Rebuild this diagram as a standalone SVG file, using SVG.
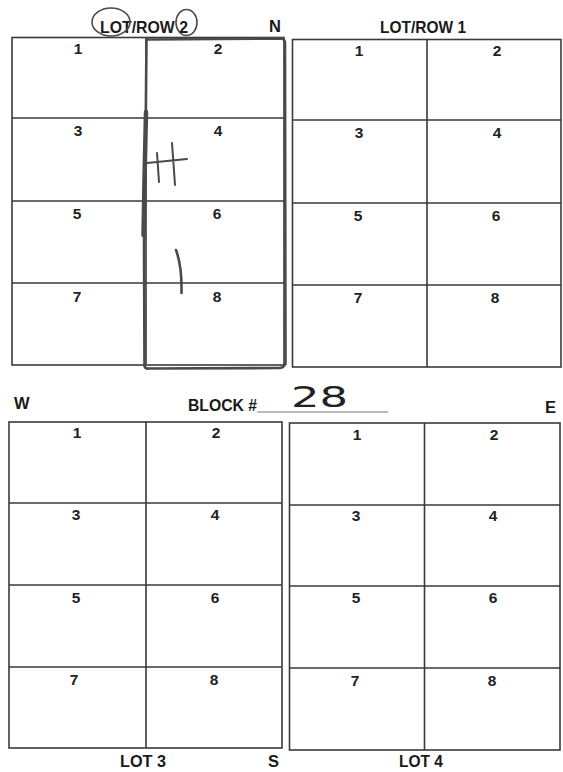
<svg xmlns="http://www.w3.org/2000/svg" width="563" height="772" viewBox="0 0 563 772">
<style>
.grid{fill:none;stroke:#3a3a3a;stroke-width:1.6}
.num{font-family:"Liberation Sans",Arial,sans-serif;font-weight:bold;font-size:15.5px;fill:#222;text-anchor:middle}
.lbl{font-family:"Liberation Sans",Arial,sans-serif;font-weight:bold;font-size:16.5px;fill:#1a1a1a}
.pen{fill:none;stroke:#4a4a4a;stroke-linecap:round;stroke-linejoin:round}
.hand{font-family:"DejaVu Sans","Liberation Sans",sans-serif;font-size:29px;fill:#222}
</style>
<rect width="563" height="772" fill="#fff"/>

<g id="lot-row-2">
  <rect class="grid" x="12" y="37.5" width="272" height="327.5"/>
  <path class="grid" d="M146 37.5V365M12 118H284M12 201H284M12 283H284"/>
  <text class="num" x="78" y="54">1</text><text class="num" x="218" y="54">2</text>
  <text class="num" x="78" y="136">3</text><text class="num" x="218" y="136">4</text>
  <text class="num" x="77" y="219">5</text><text class="num" x="217" y="219">6</text>
  <text class="num" x="77" y="302">7</text><text class="num" x="217" y="302">8</text>
</g>

<g id="lot-row-1">
  <rect class="grid" x="292.5" y="39.5" width="268.5" height="327.5"/>
  <path class="grid" d="M427 39.5V367M292.5 120H561M292.5 203H561M292.5 285H561"/>
  <text class="num" x="359" y="56">1</text><text class="num" x="497" y="56">2</text>
  <text class="num" x="359" y="138">3</text><text class="num" x="497" y="138">4</text>
  <text class="num" x="358" y="221">5</text><text class="num" x="496" y="221">6</text>
  <text class="num" x="358" y="303">7</text><text class="num" x="495" y="303">8</text>
</g>

<g id="lot-3">
  <rect class="grid" x="9" y="422" width="273" height="326"/>
  <path class="grid" d="M146 422V748M9 503H282M9 585H282M9 667H282"/>
  <text class="num" x="77" y="438">1</text><text class="num" x="216" y="438">2</text>
  <text class="num" x="76" y="520">3</text><text class="num" x="215" y="520">4</text>
  <text class="num" x="76" y="603">5</text><text class="num" x="215" y="603">6</text>
  <text class="num" x="74" y="685">7</text><text class="num" x="214" y="685">8</text>
</g>

<g id="lot-4">
  <rect class="grid" x="289.5" y="423" width="270.5" height="327"/>
  <path class="grid" d="M424.5 423V750M289.5 505H560M289.5 586H560M289.5 668H560"/>
  <text class="num" x="357" y="440">1</text><text class="num" x="494" y="440">2</text>
  <text class="num" x="356" y="521">3</text><text class="num" x="493" y="521">4</text>
  <text class="num" x="356" y="603">5</text><text class="num" x="493" y="603">6</text>
  <text class="num" x="355" y="686">7</text><text class="num" x="492" y="686">8</text>
</g>

<g id="labels">
  <text class="lbl" x="100" y="32.5" textLength="88" lengthAdjust="spacingAndGlyphs">LOT/ROW 2</text>
  <text class="lbl" x="269" y="32">N</text>
  <text class="lbl" x="380" y="33" textLength="86" lengthAdjust="spacingAndGlyphs">LOT/ROW 1</text>
  <text class="lbl" x="14" y="409">W</text>
  <text class="lbl" x="188" y="411" textLength="69" lengthAdjust="spacingAndGlyphs">BLOCK #</text>
  <line x1="257" y1="412" x2="388" y2="412" stroke="#777" stroke-width="1"/>
  <text class="lbl" x="545" y="413">E</text>
  <text class="lbl" x="120" y="767" textLength="46" lengthAdjust="spacingAndGlyphs">LOT 3</text>
  <text class="lbl" x="268" y="767">S</text>
  <text class="lbl" x="399" y="767" textLength="44" lengthAdjust="spacingAndGlyphs">LOT 4</text>
</g>

<g id="handwriting">
  <text class="hand" x="291" y="407" textLength="57" lengthAdjust="spacingAndGlyphs">28</text>
  <ellipse class="pen" cx="111" cy="22" rx="19" ry="14" stroke-width="1.6"/>
  <ellipse class="pen" cx="186.5" cy="22.5" rx="10.5" ry="13" stroke-width="1.6"/>
  <path class="pen" stroke-width="2.6" d="M146.5 38L145.5 150L144 240L144.5 366Q145 369 149 368.5L279 368Q284 368 285 364"/>
  <path class="pen" stroke-width="4.5" d="M146 112L144.5 180L143.5 235"/>
  <path class="pen" stroke-width="2.6" d="M146.5 39.5L281 38.5Q285 39 285 43L285.5 364"/>
  <path class="pen" stroke-width="2" d="M157 153L159 182M172 143L175 185M147 163L187 159"/>
  <path class="pen" stroke-width="2.6" d="M176 250Q182 266 181.5 293"/>
</g>
</svg>
